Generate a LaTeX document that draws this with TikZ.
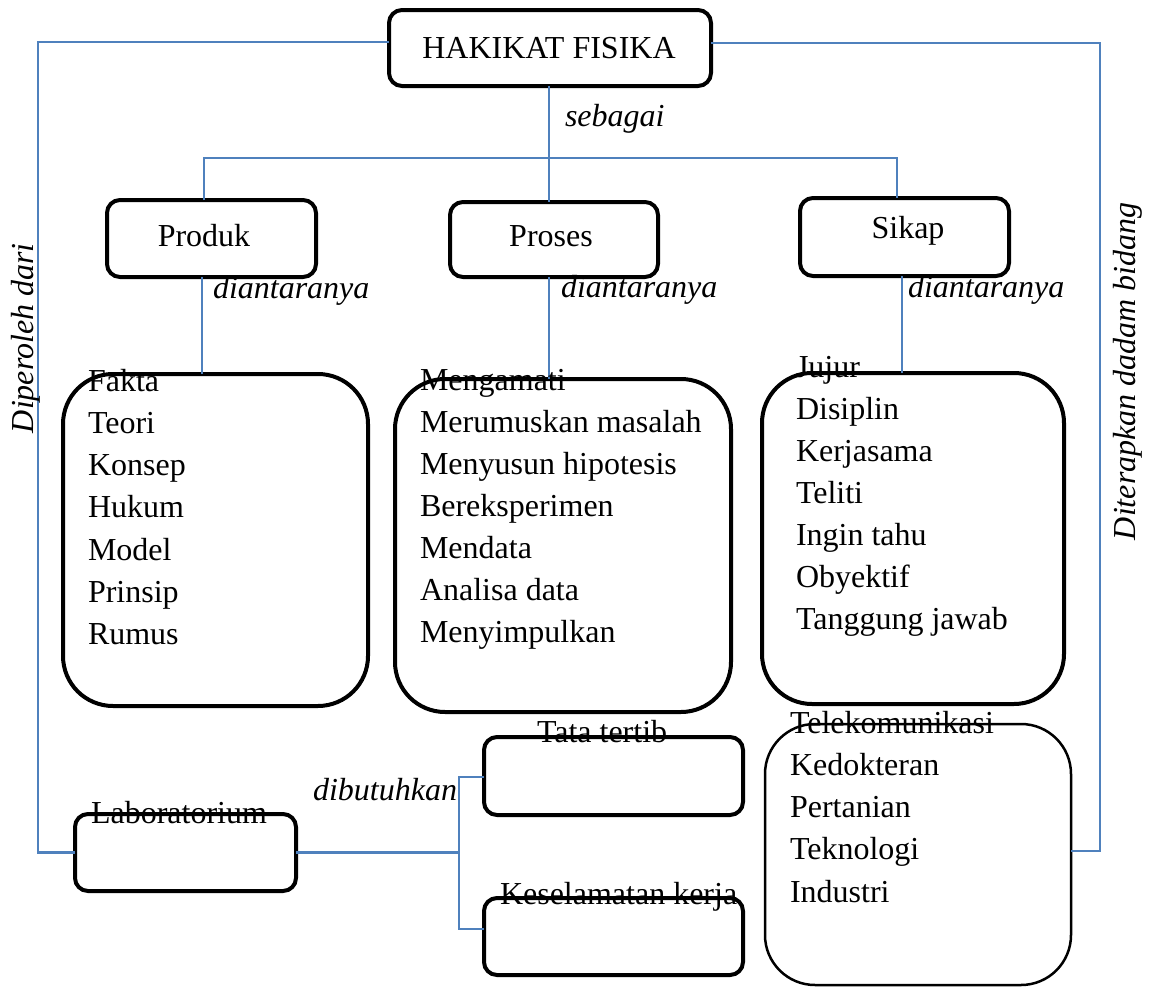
\documentclass[tikz,border=0pt]{standalone}
\usepackage{fontspec}
\setmainfont{Liberation Serif}
\definecolor{lineblue}{RGB}{79,129,189}
\begin{document}
\begin{tikzpicture}[x=1pt,y=-1pt,
  txt/.style={inner sep=0pt, outer sep=0pt, font=\fontsize{32}{38}\selectfont},
  itxt/.style={inner sep=0pt, outer sep=0pt, font=\fontsize{32}{38}\selectfont\itshape},
  sbox/.style={rectangle, draw=black, line width=4pt, rounded corners=13pt, inner sep=0pt, outer sep=0pt},
  bbox/.style={sbox, rounded corners=50pt},
  tbox/.style={rectangle, draw=black, line width=2.5pt, rounded corners=50pt, inner sep=0pt, outer sep=0pt},
  link/.style={draw=lineblue, line width=2.5pt}]
\useasboundingbox (0,0) rectangle (1149,988);

% boxes
\node[sbox, minimum width=322pt, minimum height=76pt] (hak) at (550,48) {};
\node[sbox, minimum width=209pt, minimum height=77pt] (prod) at (211.5,238.5) {};
\node[sbox, minimum width=208pt, minimum height=75pt] (pros) at (554,239.5) {};
\node[sbox, minimum width=209pt, minimum height=78pt] (sik) at (904.5,237) {};
\node[bbox, minimum width=305pt, minimum height=332pt] (bprod) at (215.5,540) {};
\node[bbox, minimum width=336pt, minimum height=333pt] (bpros) at (563,545.5) {};
\node[bbox, minimum width=302pt, minimum height=331pt] (bsik) at (913,538.5) {};
\node[sbox, minimum width=221pt, minimum height=77pt] (lab) at (185.5,852.5) {};
\node[sbox, minimum width=259pt, minimum height=78pt] (tata) at (613.5,776) {};
\node[sbox, minimum width=259pt, minimum height=77pt] (kes) at (613.5,936.5) {};
\node[tbox, minimum width=306pt, minimum height=261pt] (bid) at (918,854.5) {};

% connectors
\coordinate (L1) at (38,42);
\coordinate (R1) at (1100,43);
\coordinate (R2) at (1100,851);
\coordinate (T) at (549,158);
\coordinate (hl) at (204,158);
\coordinate (hr) at (897,158);
\coordinate (vp) at (202,300);
\coordinate (vs) at (549,300);
\coordinate (vk) at (902,300);
\coordinate (bt) at (459,777);
\coordinate (bb) at (459,929);
\draw[link] (hak.west |- L1) -- (L1) -- (L1 |- lab.west) -- (lab.west);
\draw[link] (hak.east |- R1) -- (R1) -- (R2) -- (R2 -| bid.east);
\draw[link] (hak.south -| T) -- (T |- pros.north);
\draw[link] (hl |- prod.north) -- (hl) -- (hr) -- (hr |- sik.north);
\draw[link] (vp |- prod.south) -- (vp |- bprod.north);
\draw[link] (vs |- pros.south) -- (vs |- bpros.north);
\draw[link] (vk |- sik.south) -- (vk |- bsik.north);
\draw[link] (lab.east) -- (lab.east -| bt);
\draw[link] (bt -| tata.west) -- (bt) -- (bb) -- (bb -| kes.west);

% labels
\node[txt, anchor=base] (thak) at (549,58) {HAKIKAT FISIKA};
\node[itxt, anchor=base west] (tseb) at (565,126) {sebagai};
\node[txt, anchor=base] (tprod) at (204,246) {Produk};
\node[txt, anchor=base] (tpros) at (551,246) {Proses};
\node[txt, anchor=base] (tsik) at (908,238) {Sikap};
\node[itxt, anchor=base west] (d1) at (213,298) {diantaranya};
\node[itxt, anchor=base west] (d2) at (561,297) {diantaranya};
\node[itxt, anchor=base west] (d3) at (908,297) {diantaranya};
\node[itxt, rotate=90, anchor=base west] (tdip) at (33,433) {Diperoleh dari};
\node[itxt, rotate=90, anchor=base west] (tdit) at (1135,540) {Diterapkan dadam bidang};

\foreach \t [count=\i from 0] in {Fakta,Teori,Konsep,Hukum,Model,Prinsip,Rumus}
  \node[txt, anchor=base west] (pl\i) at (88,391+42.3*\i) {\t};
\foreach \t [count=\i from 0] in {Mengamati,Merumuskan masalah,Menyusun hipotesis,Bereksperimen,Mendata,Analisa data,Menyimpulkan}
  \node[txt, anchor=base west] (ml\i) at (420,390+42*\i) {\t};
\foreach \t [count=\i from 0] in {Jujur,Disiplin,Kerjasama,Teliti,Ingin tahu,Obyektif,Tanggung jawab}
  \node[txt, anchor=base west] (sl\i) at (796,377+42.1*\i) {\t};
\foreach \t [count=\i from 0] in {Telekomunikasi,Kedokteran,Pertanian,Teknologi,Industri}
  \node[txt, anchor=base west] (bl\i) at (790,733+42.3*\i) {\t};

\node[txt, anchor=base west] (tlab) at (91,823) {Laboratorium};
\node[txt, anchor=base west] (ttata) at (537,742) {Tata tertib};
\node[txt, anchor=base west] (tkes) at (500,904) {Keselamatan kerja};
\node[itxt, anchor=base west] (tdib) at (313,800) {dibutuhkan};
\end{tikzpicture}
\end{document}
